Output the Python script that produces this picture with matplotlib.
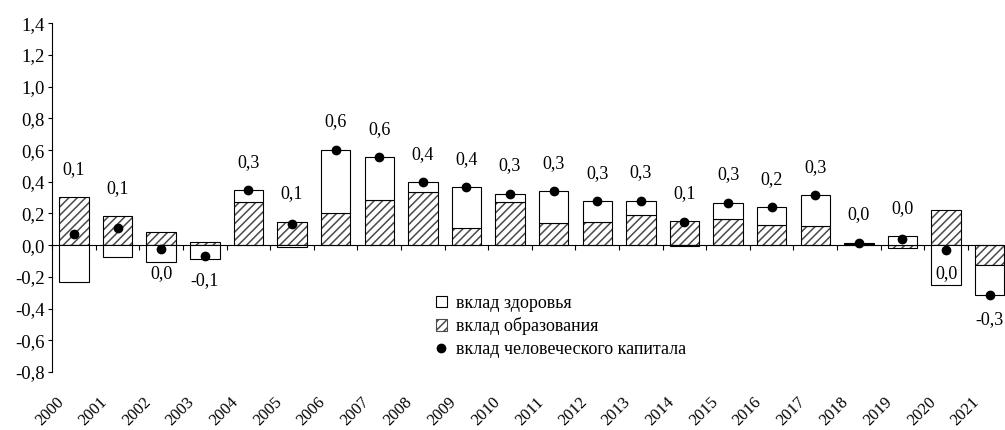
import matplotlib
matplotlib.use("Agg")
import matplotlib.pyplot as plt
import matplotlib.transforms as mtransforms
from matplotlib.patches import Patch
from matplotlib.lines import Line2D
import numpy as np

years = [str(y) for y in range(2000, 2022)]
education = [0.303, 0.183, 0.082, 0.019, 0.273, 0.149, 0.202, 0.284, 0.334, 0.107, 0.271,
             0.137, 0.147, 0.189, 0.151, 0.164, 0.126, 0.120, 0.005, -0.019, 0.219, -0.126]
health = [-0.233, -0.076, -0.109, -0.090, 0.076, -0.013, 0.401, 0.273, 0.063, 0.259, 0.055,
          0.206, 0.130, 0.093, -0.004, 0.105, 0.114, 0.197, 0.012, 0.055, -0.250, -0.191]
yticks = [-0.8, -0.6, -0.4, -0.2, 0.0, 0.2, 0.4, 0.6, 0.8, 1.0, 1.2, 1.4]
legend_labels = ["вклад здоровья", "вклад образования", "вклад человеческого капитала"]

plt.rcParams['font.family'] = ['Liberation Serif', 'DejaVu Serif']
plt.rcParams['hatch.linewidth'] = 1.1

W, H = 1005, 430
fig = plt.figure(figsize=(W / 100, H / 100), dpi=100)
left_px, right_px, top_px, bot_px = 52.2, 1011.5, 23.3, 372.0
ax = fig.add_axes([left_px / W, 1 - bot_px / H, (right_px - left_px) / W, (bot_px - top_px) / H])

edu = np.array(education)
hl = np.array(health)
total = edu + hl
x = np.arange(len(years))
bw = 0.675

# education (bottom series)
ax.bar(x, edu, width=bw, color='white', edgecolor='#4a4a4a', hatch='////', linewidth=0, zorder=2)
ax.bar(x, edu, width=bw, color='none', edgecolor='black', linewidth=0.8, zorder=3)
# health stacked by sign
hbottom = np.where(hl >= 0, np.maximum(edu, 0), np.minimum(edu, 0))
ax.bar(x, hl, width=bw, bottom=hbottom, color='white', edgecolor='black', linewidth=0.8, zorder=3)
# total dots
ax.plot(x, total, linestyle='none', marker='o', markersize=6, color='black', zorder=5)

# value labels
def fmt(v):
    r = round(v, 1)
    if r == 0:
        r = 0.0
    return f"{abs(r) if r == 0 else r:.1f}".replace('.', ',')

tops = np.maximum(edu, 0) + np.maximum(hl, 0)
for i, v in enumerate(total):
    if v >= 0:
        yy = tops[i] + 0.175
    else:
        yy = v - 0.15
    ax.text(i, yy, fmt(v), ha='center', va='center', fontsize=13, zorder=6)

ax.set_xlim(-0.5, len(years) - 0.5)
ax.set_ylim(-0.8, 1.4)
ax.set_yticks(yticks)
ax.set_yticklabels([f"{t:.1f}".replace('.', ',') for t in yticks], fontsize=13.5)
ax.tick_params(axis='y', direction='out', length=3.2, width=0.8, pad=2)

ax.spines['top'].set_visible(False)
ax.spines['right'].set_visible(False)
ax.spines['bottom'].set_position(('data', 0))
ax.spines['left'].set_linewidth(0.8)
ax.spines['bottom'].set_linewidth(0.8)
ax.set_xticks(np.arange(-0.5, len(years), 1.0))
ax.set_xticklabels([])
ax.tick_params(axis='x', direction='out', length=3.8, width=0.8)

trans = mtransforms.blended_transform_factory(ax.transData, ax.transAxes)
trans = mtransforms.offset_copy(trans, fig=fig, x=-5, y=0, units='points')
for i, yr in enumerate(years):
    ax.text(i, -0.064, yr, transform=trans, rotation=45, ha='right', va='top', fontsize=12)

handles = [Patch(facecolor='white', edgecolor='black', linewidth=0.8),
           Patch(facecolor='white', edgecolor='#4a4a4a', hatch='////', linewidth=0.8),
           Line2D([], [], linestyle='none', marker='o', markersize=6, color='black')]
fig.legend(handles, legend_labels, loc='upper left', bbox_to_anchor=(436 / W, 1 - 295 / H),
           frameon=False, fontsize=13, handlelength=0.6, handleheight=0.6, handletextpad=0.5,
           labelspacing=0.3, borderpad=0, borderaxespad=0)

fig.savefig('out.png', dpi=100)
